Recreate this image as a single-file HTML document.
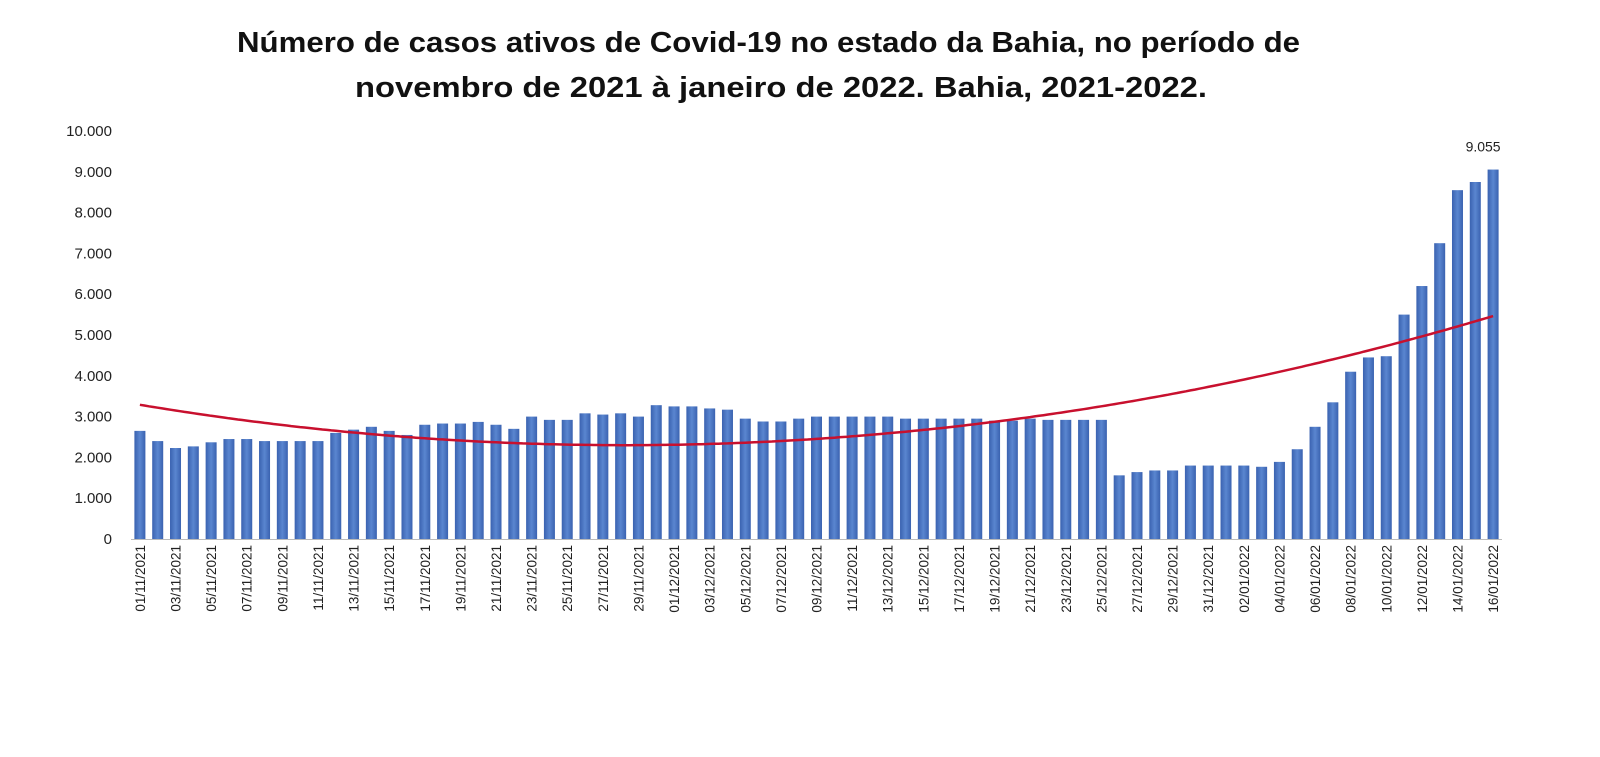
<!DOCTYPE html>
<html><head><meta charset="utf-8"><style>
body{margin:0;background:#fff;width:1600px;height:752px;overflow:hidden;font-family:"Liberation Sans",sans-serif}
</style></head><body>
<svg width="1600" height="752" xmlns="http://www.w3.org/2000/svg">
<defs><linearGradient id="bg" x1="0" x2="1"><stop offset="0" stop-color="#3a62b0"/><stop offset="0.5" stop-color="#5a86d0"/><stop offset="1" stop-color="#3a62b0"/></linearGradient></defs>
<text x="237" y="52" textLength="1063" lengthAdjust="spacingAndGlyphs" font-size="29" font-weight="bold" fill="#111">Número de casos ativos de Covid-19 no estado da Bahia, no período de</text>
<text x="355" y="97" textLength="852" lengthAdjust="spacingAndGlyphs" font-size="29" font-weight="bold" fill="#111">novembro de 2021 à janeiro de 2022. Bahia, 2021-2022.</text>
<g id="yaxis"></g>
<g id="bars"></g>
<g id="xaxis"></g>
<path id="trend" fill="none" stroke="#c8102e" stroke-width="2.5"/>
</svg>
<script>
const categories=[];
const values=[2650,2400,2230,2270,2370,2450,2450,2400,2400,2400,2400,2600,2680,2750,2650,2550,2800,2830,2830,2870,2800,2700,3000,2920,2920,3080,3050,3080,3000,3280,
3250,3250,3200,3170,2950,2880,2880,2950,3000,3000,3000,3000,3000,2950,2950,2950,2950,2950,2900,2900,2950,2920,2920,2920,2920,1560,1640,1680,1680,1800,1800,
1800,1800,1770,1890,2200,2750,3350,4100,4450,4480,5500,6200,7250,8550,8750,9055];
const yTicks=[0,1000,2000,3000,4000,5000,6000,7000,8000,9000,10000];
const yTickLabels=["0","1.000","2.000","3.000","4.000","5.000","6.000","7.000","8.000","9.000","10.000"];
const peakLabel="9.055";
(function(){
  const p=n=>String(n).padStart(2,'0');
  for(let d=1;d<=30;d++)categories.push(p(d)+"/11/2021");
  for(let d=1;d<=31;d++)categories.push(p(d)+"/12/2021");
  for(let d=1;d<=16;d++)categories.push(p(d)+"/01/2022");
})();
const NS="http://www.w3.org/2000/svg";
const y0=539,yTop=131,x0=131,x1=1502;
const y=v=>y0-(v/10000)*(y0-yTop);
const step=(x1-x0)/categories.length;
const x=i=>x0+step*(i+0.5);
function mk(t,a,parent,txt){const e=document.createElementNS(NS,t);for(const k in a)e.setAttribute(k,a[k]);if(txt!=null)e.textContent=txt;parent.appendChild(e);return e;}
const ya=document.getElementById('yaxis');
yTicks.forEach((t,i)=>{
  const e=mk('text',{x:112,y:y(t)+5,'text-anchor':'end','font-size':15,fill:'#222'},ya,yTickLabels[i]);
  
  
});
const bg=document.getElementById('bars');
values.forEach((v,i)=>{
  const r=mk('rect',{x:x(i)-5.5,y:y(v),width:11,height:y0-y(v),fill:'url(#bg)'},bg);
  
  
});
const pl=mk('text',{x:x(values.length-1)-10,y:y(values[values.length-1])-18,'text-anchor':'middle','font-size':14,fill:'#222'},bg,peakLabel);


const xa=document.getElementById('xaxis');
mk('line',{x1:x0,x2:x1,y1:y0+0.5,y2:y0+0.5,stroke:'#bbb'},xa);
categories.forEach((c,i)=>{
  if(i%2)return;
  const cx=x(i)+5;
  const t=mk('text',{x:cx,y:545,'text-anchor':'end','font-size':13.5,fill:'#222',transform:`rotate(-90 ${cx} 545)`},xa,c);
  
  
});
(function(){
  const n=values.length;let S=[0,0,0,0,0],T=[0,0,0];
  for(let i=0;i<n;i++){const t=i/n;let pw=1;for(let k=0;k<5;k++){S[k]+=pw;if(k<3)T[k]+=pw*values[i];pw*=t;}}
  const A=[[S[0],S[1],S[2],T[0]],[S[1],S[2],S[3],T[1]],[S[2],S[3],S[4],T[2]]];
  for(let c=0;c<3;c++){for(let r=c+1;r<3;r++){const f=A[r][c]/A[c][c];for(let k=c;k<4;k++)A[r][k]-=f*A[c][k];}}
  const b=[0,0,0];for(let r=2;r>=0;r--){let s=A[r][3];for(let k=r+1;k<3;k++)s-=A[r][k]*b[k];b[r]=s/A[r][r];}
  let d="";for(let i=0;i<=n-1+0.001;i+=0.25){const t=i/n;const v=b[0]+b[1]*t+b[2]*t*t;d+=(d?"L":"M")+x(i).toFixed(1)+","+y(v).toFixed(1);}
  document.getElementById('trend').setAttribute('d',d);
})();
</script>
</body></html>
